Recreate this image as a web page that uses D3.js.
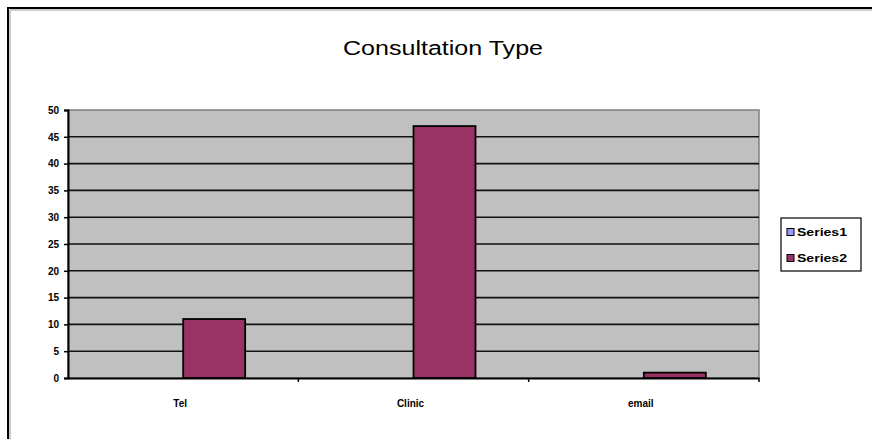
<!DOCTYPE html>
<html><head><meta charset="utf-8">
<script src="https://cdn.jsdelivr.net/npm/d3@7"></script>
<style>body{margin:0;background:#fff}svg{display:block}</style>
</head><body>
<svg id="c" width="872" height="439"></svg>
<script>
const categories = ["Tel", "Clinic", "email"];
const seriesNames = ["Series1", "Series2"];
const series1 = [0, 0, 0];
const series2 = [11, 47, 1];
const yTicks = [0, 5, 10, 15, 20, 25, 30, 35, 40, 45, 50];
const title = "Consultation Type";
const colors = ["#9999FF", "#993366"];

const svg = d3.select("#c");
svg.append("rect").attr("x", 8).attr("y", 8).attr("width", 900).attr("height", 500)
  .attr("fill", "#fff").attr("stroke", "#000").attr("stroke-width", 2);
svg.append("path").attr("d", "M10,900V10H900").attr("fill", "none").attr("stroke", "#9a9a9a").attr("stroke-width", 1);

const m = {l: 68, r: 759, t: 110, b: 378};
const x = d3.scaleBand().domain(categories).range([m.l, m.r]).paddingInner(0).paddingOuter(0);
const y = d3.scaleLinear().domain([0, 50]).range([m.b, m.t]);
const bw = 62;
const font = "Liberation Sans, Arial, sans-serif";

svg.append("rect").attr("x", m.l).attr("y", m.t).attr("width", m.r - m.l).attr("height", m.b - m.t)
  .attr("fill", "#C0C0C0").attr("stroke", "#808080").attr("stroke-width", 1.5);

svg.append("g").selectAll("line").data(yTicks.filter(d => d > 0 && d < 50)).join("line")
  .attr("x1", m.l).attr("x2", m.r).attr("y1", d => y(d)).attr("y2", d => y(d))
  .attr("stroke", "#111").attr("stroke-width", 1.6);

const data = [series1, series2];
data.forEach((vals, si) => {
  svg.append("g").selectAll("rect").data(categories).join("rect")
    .attr("x", d => x(d) + x.bandwidth() / 2 - bw + si * bw)
    .attr("y", (d, i) => y(vals[i]))
    .attr("width", bw)
    .attr("height", (d, i) => y(0) - y(vals[i]))
    .attr("fill", colors[si]).attr("stroke", "#000").attr("stroke-width", si === 0 ? 0 : 1.8);
});

const yAxis = svg.append("g").attr("transform", `translate(${m.l},0)`)
  .call(d3.axisLeft(y).tickValues(yTicks).tickSize(4).tickPadding(5));
yAxis.select(".domain").attr("stroke", "#000").attr("stroke-width", 2);
yAxis.selectAll(".tick line").attr("stroke", "#000").attr("stroke-width", 1.5);
yAxis.selectAll("text").attr("font-family", font).attr("font-weight", "bold").attr("font-size", 10).attr("fill", "#000");

const xAxis = svg.append("g").attr("transform", `translate(0,${m.b})`)
  .call(d3.axisBottom(x).tickSize(0).tickPadding(22));
xAxis.select(".domain").attr("stroke", "#000").attr("stroke-width", 2);
xAxis.selectAll("text").attr("font-family", font).attr("font-weight", "bold").attr("font-size", 10).attr("fill", "#000")
  .attr("dx", -3);
svg.append("g").selectAll("line").data(categories).join("line")
  .attr("x1", (d, i) => m.l + (i + 1) * x.bandwidth()).attr("x2", (d, i) => m.l + (i + 1) * x.bandwidth())
  .attr("y1", m.b).attr("y2", m.b + 4).attr("stroke", "#000").attr("stroke-width", 1.5);

svg.append("text").attr("x", 443).attr("y", 55).attr("text-anchor", "middle")
  .attr("font-family", font).attr("font-size", 20).attr("fill", "#000")
  .attr("textLength", 200).attr("lengthAdjust", "spacingAndGlyphs").text(title);

const lg = svg.append("g");
lg.append("rect").attr("x", 781).attr("y", 218).attr("width", 80).attr("height", 53)
  .attr("fill", "#fff").attr("stroke", "#000").attr("stroke-width", 1.2);
seriesNames.forEach((n, i) => {
  lg.append("rect").attr("x", 787).attr("y", 228.5 + i * 26).attr("width", 7).attr("height", 7)
    .attr("fill", colors[i]).attr("stroke", "#000").attr("stroke-width", 1);
  lg.append("text").attr("x", 797).attr("y", 236 + i * 26)
    .attr("font-family", font).attr("font-weight", "bold").attr("font-size", 10)
    .attr("textLength", 50).attr("lengthAdjust", "spacingAndGlyphs").text(n);
});
</script>
</body></html>
